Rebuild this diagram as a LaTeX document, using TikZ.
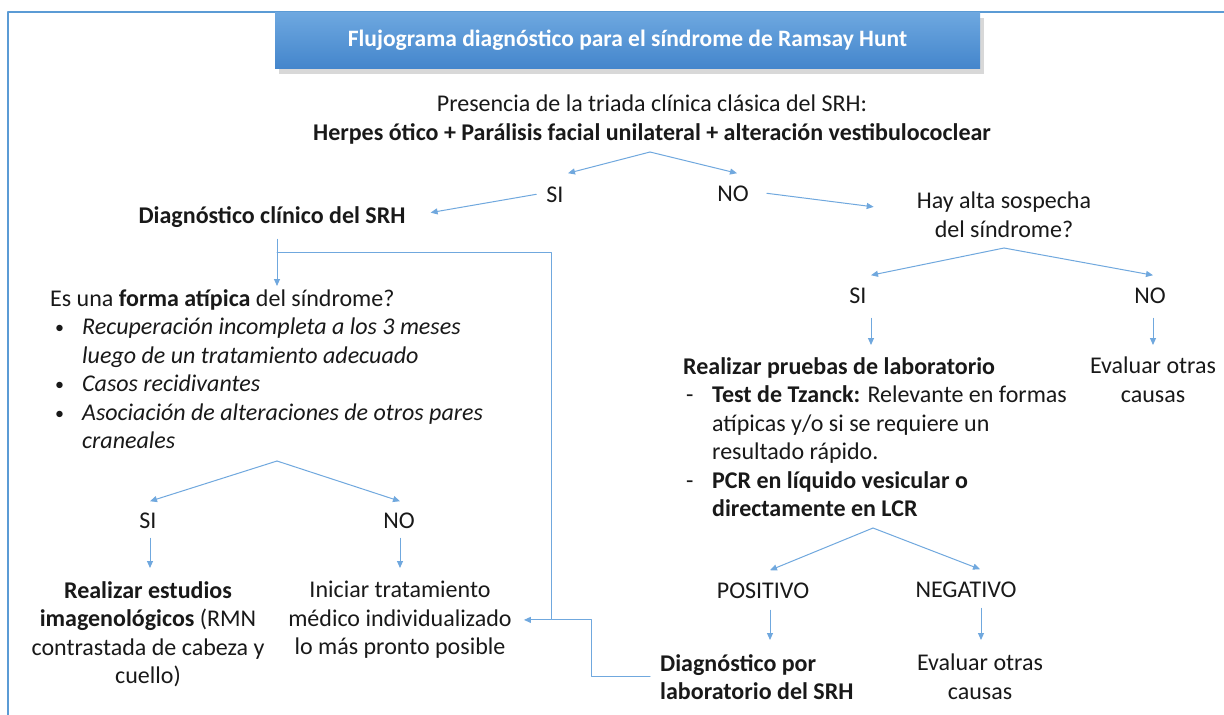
\documentclass[tikz,border=0pt]{standalone}
\usepackage{fontspec}
\setmainfont{Carlito}
\usetikzlibrary{arrows.meta,calc,shadows}
\definecolor{lineblue}{RGB}{112,168,222}
\definecolor{frameblue}{RGB}{91,155,213}
\definecolor{titletop}{RGB}{110,168,224}
\definecolor{titlebot}{RGB}{68,134,204}
\definecolor{ink}{RGB}{25,25,25}
\newcommand{\blt}{\hspace*{5pt}\makebox[27pt][l]{\raisebox{1pt}{\scalebox{0.75}{\textbullet}}}}

\begin{document}
\begin{tikzpicture}[line cap=round,line join=round,x=1pt,y=-1pt,
  txt/.style={font=\fontsize{24}{28.5}\selectfont,text=ink,inner sep=0pt},
  lbl/.style={txt,anchor=base},
  blk/.style={txt,anchor=north,align=center},
  lst/.style={txt,anchor=north west,align=left},
  arr/.style={-{Triangle[length=7pt,width=6pt]},line width=1pt,color=lineblue},
  conn/.style={line width=1pt,color=lineblue},
  titlebox/.style={top color=titletop,bottom color=titlebot,draw=none,
    text=white,font=\fontsize{23.5}{28}\selectfont\bfseries,
    minimum width=705pt,minimum height=56pt,
    drop shadow={shadow xshift=4pt,shadow yshift=-6pt,opacity=0.3}}]

    \useasboundingbox (0,0) rectangle (1224,715);
    \fill[white] (0,0) rectangle (1224,715);
    \draw[frameblue,line width=1.6pt] (8,715) |- (1224,12);

    \node[titlebox] (title) at (627.5,40) {Flujograma diagnóstico para el síndrome de Ramsay Hunt};

    % triada clinica
    \node[blk] (triad) at (652,95) {Presencia de la triada clínica clásica del SRH:\\
        \textbf{Herpes ótico + Parálisis facial unilateral + alteración vestibulococlear}};
    \coordinate (fork1) at (650,152);
    \node[lbl] (si1) at (555,202) {SI};
    \node[lbl] (no1) at (733,201) {NO};
    \draw[arr] (fork1) -- ($(si1.north)+(13,-13)$);
    \draw[arr] (fork1) -- ($(no1.north)+(4,-12)$);

    % rama SI
    \node[lbl] (dxclin) at (272,223) {\textbf{Diagnóstico clínico del SRH}};
    \draw[arr] ($(si1.west)+(-10,0)$) -- ($(dxclin.east)+(25,-4)$);

    \node[lst] (atipica) at (50,289) {Es una \textbf{forma atípica} del síndrome?\\
        \blt\textit{Recuperación incompleta a los 3 meses}\\
        \hspace*{32pt}\textit{luego de un tratamiento adecuado}\\
        \blt\textit{Casos recidivantes}\\
        \blt\textit{Asociación de alteraciones de otros pares}\\
        \hspace*{32pt}\textit{craneales}};
    \draw[arr] ($(dxclin.south)+(5,12)$) -- ($(atipica.north west)+(227,-3)$);

    \coordinate (fork3) at (277,461);
    \node[lbl] (si3) at (148,528) {SI};
    \node[lbl] (no3) at (399,528) {NO};
    \draw[arr] (fork3) -- ($(si3.north)+(2,-11)$);
    \draw[arr] (fork3) -- ($(no3.north)+(1,-11)$);

    \node[blk] (estudios) at (148,581) {\textbf{Realizar estudios}\\
        \textbf{imagenológicos} (RMN\\contrastada de cabeza y\\cuello)};
    \node[blk] (iniciar) at (400,581) {Iniciar tratamiento\\médico individualizado\\lo más pronto posible};
    \draw[arr] ($(si3.south)+(2,10)$) -- ($(estudios.north)+(2,-13)$);
    \draw[arr] ($(no3.south)+(1,10)$) -- ($(iniciar.north)+(0,-13)$);
    \draw[arr] ($(dxclin.south)+(5,25)$) -| ($(iniciar.east)+(40,0)$) -- ($(iniciar.east)+(12,0)$);

    % rama NO
    \node[blk] (sospecha) at (1004,192) {Hay alta sospecha\\del síndrome?};
    \draw[arr] ($(no1.east)+(18,0)$) -- ($(sospecha.west)+(-43,-8)$);

    \coordinate (fork2) at (1004,248);
    \node[lbl] (si2) at (858,303) {SI};
    \node[lbl] (no2) at (1150,303) {NO};
    \draw[arr] (fork2) -- ($(si2.north)+(13,-12)$);
    \draw[arr] (fork2) -- ($(no2.north)+(3,-12)$);

    \node[blk] (otras1) at (1153,357) {Evaluar otras\\causas};
    \node[lst] (lab) at (683,357) {\textbf{Realizar pruebas de laboratorio}\\
        \makebox[29pt][l]{\hspace*{3pt}-}\textbf{Test de Tzanck:} Relevante en formas\\
        \hspace*{29pt}atípicas y/o si se requiere un\\
        \hspace*{29pt}resultado rápido.\\
        \makebox[29pt][l]{\hspace*{3pt}-}\textbf{PCR en líquido vesicular o}\\
        \hspace*{29pt}\textbf{directamente en LCR}};
    \draw[arr] ($(si2.south)+(13,15)$) -- ($(lab.north west)+(188,-12)$);
    \draw[arr] ($(no2.south)+(3,15)$) -- ($(otras1.north)+(0,-12)$);

    \coordinate (fork4) at (873,528);
    \node[lbl] (pos) at (763,598) {POSITIVO};
    \node[lbl] (neg) at (966,597) {NEGATIVO};
    \draw[arr] (fork4) -- ($(pos.north)+(7,-12)$);
    \draw[arr] (fork4) -- ($(neg.north)+(14,-12)$);

    \node[lst] (dxlab) at (660,654) {\textbf{Diagnóstico por}\\\textbf{laboratorio del SRH}};
    \node[blk] (otras2) at (980,654) {Evaluar otras\\causas};
    \draw[arr] ($(pos.south)+(7,12)$) -- ($(dxlab.north west)+(110,-14)$);
    \draw[arr] ($(neg.south)+(15,11)$) -- ($(otras2.north)+(1,-14)$);
    \draw[conn] ($(dxlab.west)+(-10,0)$) -| ($(iniciar.east)+(80,0)$) -- ($(iniciar.east)+(40,0)$);
\end{tikzpicture}
\end{document}
